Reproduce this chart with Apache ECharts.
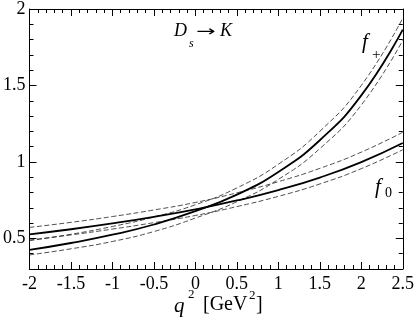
<!DOCTYPE html>
<html>
<head>
<meta charset="utf-8">
<script src="https://cdn.jsdelivr.net/npm/echarts@6/dist/echarts.min.js"></script>
<style>
html,body{margin:0;padding:0;background:#fff;}
#c{width:417px;height:319px;}
</style>
</head>
<body>
<div id="c"></div>
<script>
// q^2 sample points [GeV^2]
const q2 = [-2, -1.5, -1, -0.5, 0, 0.5, 1, 1.5, 2, 2.5];
// f+ central and error band
const fPlus   = [0.425, 0.470, 0.524, 0.591, 0.678, 0.786, 0.935, 1.142, 1.435, 1.865];
const fPlusUp = [0.485, 0.527, 0.578, 0.640, 0.720, 0.830, 0.985, 1.200, 1.500, 1.940];
const fPlusLo = [0.392, 0.432, 0.480, 0.545, 0.633, 0.740, 0.886, 1.087, 1.372, 1.795];
// f0 central and error band
const fZero   = [0.527, 0.560, 0.598, 0.641, 0.690, 0.748, 0.816, 0.898, 0.999, 1.124];
const fZeroUp = [0.572, 0.605, 0.643, 0.686, 0.735, 0.798, 0.871, 0.958, 1.064, 1.194];
const fZeroLo = [0.490, 0.523, 0.561, 0.603, 0.650, 0.708, 0.775, 0.856, 0.956, 1.080];
// y major tick values
const yMajor = [0.5, 1, 1.5, 2];

const pairs = arr => q2.map((x, i) => [x, arr[i]]);
const FONT = '"Liberation Serif", "Times New Roman", serif';

function lineSeries(name, arr, dashed) {
  return {
    name: name, type: 'line', data: pairs(arr), xAxisIndex: 0, yAxisIndex: 0,
    showSymbol: false, symbol: 'none', smooth: 0.5,
    lineStyle: dashed ? {color: '#222', width: 0.8, type: [5, 2.5]} : {color: '#000', width: 1.8},
    silent: true, z: dashed ? 2 : 3
  };
}

const xBase = (pos, showLabel) => ({
  type: 'value', min: -2, max: 2.5, interval: 0.5, position: pos,
  axisLine: {show: true, onZero: false, lineStyle: {color: '#000', width: 1}},
  axisTick: {show: true, inside: true, length: 7, lineStyle: {color: '#000', width: 1}},
  minorTick: {show: true, splitNumber: 5, length: 4, lineStyle: {color: '#000', width: 1}},
  splitLine: {show: false}, minorSplitLine: {show: false},
  axisLabel: {show: showLabel, fontFamily: FONT, fontSize: 18, color: '#000', margin: 6}
});

const yMajorAxis = (pos, showLabel) => ({
  type: 'value', min: 0.3, max: 2, position: pos,
  axisLine: {show: true, onZero: false, lineStyle: {color: '#000', width: 1}},
  axisTick: {show: true, inside: true, length: 7, customValues: yMajor, lineStyle: {color: '#000', width: 1}},
  axisLabel: {show: showLabel, customValues: yMajor, fontFamily: FONT, fontSize: 18, color: '#000', margin: 4},
  splitLine: {show: false}
});
const yMinorAxis = (pos) => ({
  type: 'value', min: 0.3, max: 2, interval: 0.1, position: pos,
  axisLine: {show: false, onZero: false},
  axisTick: {show: true, inside: true, length: 4, lineStyle: {color: '#000', width: 1}},
  axisLabel: {show: false},
  splitLine: {show: false}
});

const chart = echarts.init(document.getElementById('c'), null, {renderer: 'canvas'});
const T = (text, x, y, font, extra) => Object.assign({
  type: 'text', x: x, y: y, silent: true,
  style: {text: text, font: font, fill: '#000', verticalAlign: 'middle', align: 'left'}
}, extra || {});

chart.setOption({
  animation: false,
  backgroundColor: '#fff',
  grid: {left: 29, right: 14, top: 8, bottom: 50, containLabel: false},
  xAxis: [xBase('bottom', true), xBase('top', false)],
  yAxis: [yMajorAxis('left', true), yMinorAxis('left'), yMajorAxis('right', false), yMinorAxis('right')],
  series: [
    lineSeries('f+ upper', fPlusUp, true),
    lineSeries('f+ lower', fPlusLo, true),
    lineSeries('f0 upper', fZeroUp, true),
    lineSeries('f0 lower', fZeroLo, true),
    lineSeries('f+', fPlus, false),
    lineSeries('f0', fZero, false)
  ],
  graphic: [
    // title D_s -> K
    T('D', 174, 31, 'italic 18px ' + FONT),
    T('s', 189, 44, 'italic 12px ' + FONT),
    T('\u2192', 196, 32, '15px "DejaVu Sans"', {scaleX: 1.55, originX: 0}),
    T('K', 220, 31, 'italic 18px ' + FONT),
    // curve labels
    T('f', 362, 42, 'italic 21px ' + FONT),
    T('+', 372, 55, '15px ' + FONT),
    T('f', 375, 187, 'italic 21px ' + FONT),
    T('0', 385, 193, '14px ' + FONT),
    // axis title q^2 [GeV^2]
    T('q', 174, 306, 'italic 21px ' + FONT),
    T('2', 188, 295, '13px ' + FONT),
    T('[GeV', 203, 305, '20px ' + FONT),
    T('2', 249, 296, '13px ' + FONT),
    T(']', 256, 305, '20px ' + FONT)
  ]
});
</script>
</body>
</html>
